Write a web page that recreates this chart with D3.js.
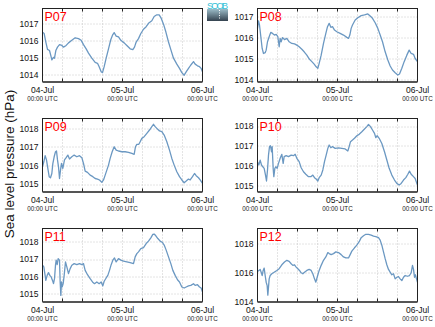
<!DOCTYPE html>
<html>
<head>
<meta charset="utf-8">
<script src="https://cdn.jsdelivr.net/npm/d3@7"></script>
<style>
  html, body { margin: 0; padding: 0; background: #fff; }
  svg { display: block; font-family: "Liberation Sans", Arial, sans-serif; }
</style>
</head>
<body>
<svg id="chart" width="435" height="327"></svg>
<script>
// Sea level pressure per station: [hours since 04-Jul 00:00 UTC, hPa]
const p07 = [[0,1016.47],[0.5,1016.4],[1,1015.9],[1.5,1015.47],[2.1,1015.4],[2.5,1015.1],[2.8,1014.85],[3.3,1015.0],[3.6,1014.95],[4,1015.4],[4.5,1015.6],[5.1,1015.75],[5.8,1015.7],[6.3,1015.6],[7.1,1015.7],[7.8,1015.85],[8.8,1016.0],[9.8,1016.15],[10.8,1016.1],[11.6,1016.0],[12.3,1015.75],[13.1,1015.5],[13.8,1015.25],[14.8,1014.95],[15.8,1014.7],[16.5,1014.65],[17,1014.45],[17.6,1014.15],[18,1014.1],[18.5,1014.45],[19.1,1014.95],[19.8,1015.5],[20.5,1016.05],[21,1016.3],[21.5,1016.45],[22.1,1016.25],[22.8,1016.2],[23.5,1016.0],[24.5,1015.85],[25.3,1015.7],[26.3,1015.5],[27.1,1015.45],[27.6,1015.6],[28.1,1015.9],[28.8,1016.1],[29.5,1016.4],[30.3,1016.65],[31.1,1016.8],[31.8,1017.0],[32.8,1017.15],[33.5,1017.4],[34.3,1017.5],[35,1017.5],[35.6,1017.3],[36.3,1016.95],[37,1016.5],[37.8,1015.9],[38.5,1015.45],[39.3,1014.95],[40.3,1014.6],[41.1,1014.35],[41.8,1014.1],[42.5,1013.95],[43.1,1014.15],[43.8,1014.35],[44.5,1014.55],[45.3,1014.75],[45.8,1014.6],[46.5,1014.5],[47.1,1014.45],[47.6,1014.35],[48,1014.15]];

const p08 = [[0,1016.44],[0.3,1016.8],[0.6,1016.6],[1,1016.04],[1.4,1015.48],[1.8,1015.24],[2.3,1015.28],[2.6,1015.4],[3,1015.8],[3.5,1016.04],[4,1016.25],[4.5,1016.2],[5.1,1016.12],[5.6,1016.15],[6.1,1016.04],[6.5,1015.56],[6.8,1015.96],[7.1,1015.8],[7.5,1016.0],[8.1,1015.9],[8.8,1015.96],[9.5,1015.8],[10.3,1015.72],[11.1,1015.7],[11.8,1015.64],[12.5,1015.56],[13.3,1015.44],[14,1015.32],[14.8,1015.16],[15.6,1014.96],[16.3,1014.85],[17,1014.73],[17.6,1014.6],[18.1,1014.53],[18.5,1014.77],[19.1,1015.16],[19.8,1015.72],[20.5,1016.2],[21,1016.52],[21.5,1016.68],[22,1016.49],[22.5,1016.52],[23.1,1016.36],[23.8,1016.28],[24.8,1016.2],[25.8,1016.12],[26.8,1016.01],[27.3,1015.96],[27.7,1016.12],[28.1,1016.44],[28.5,1016.6],[29.3,1016.84],[30.1,1016.95],[31.1,1017.05],[32.1,1017.08],[33.1,1017.13],[33.8,1017.03],[34.5,1016.92],[35.3,1016.71],[36.1,1016.44],[36.8,1016.12],[37.5,1015.8],[38.3,1015.32],[39.1,1014.93],[39.8,1014.64],[40.5,1014.45],[41.3,1014.32],[42.1,1014.21],[42.6,1014.26],[43.3,1014.53],[44,1014.85],[44.8,1015.16],[45.5,1015.4],[46.1,1015.24],[46.8,1015.2],[47.3,1015.0],[48,1014.85]];

const p09 = [[0,1015.93],[0.4,1016.2],[0.8,1016.53],[1.2,1016.3],[1.6,1015.84],[2,1015.4],[2.4,1015.34],[2.8,1015.57],[3.1,1016.1],[3.5,1016.47],[3.9,1016.74],[4.2,1016.78],[4.5,1016.3],[4.8,1015.93],[5.1,1015.3],[5.4,1015.75],[5.7,1016.11],[6.1,1015.84],[6.6,1016.3],[7.1,1016.42],[7.6,1016.56],[8.1,1016.35],[8.8,1016.47],[9.5,1016.56],[10.3,1016.47],[11.1,1016.53],[11.8,1016.42],[12.3,1016.11],[12.8,1015.7],[13.5,1015.63],[14.3,1015.48],[15.1,1015.4],[15.8,1015.3],[16.5,1015.27],[17.1,1015.22],[17.8,1015.09],[18.3,1015.22],[18.8,1015.48],[19.3,1015.75],[19.8,1016.02],[20.3,1016.38],[20.9,1016.74],[21.5,1017.01],[22.1,1016.83],[22.8,1016.78],[23.8,1016.74],[24.8,1016.74],[25.8,1016.71],[26.8,1016.65],[27.5,1016.6],[27.9,1017.01],[28.3,1017.14],[28.9,1017.14],[29.3,1017.28],[29.8,1017.46],[30.5,1017.55],[31.3,1017.73],[32.1,1017.91],[32.8,1018.09],[33.3,1018.22],[33.8,1018.09],[34.5,1017.96],[35.1,1017.86],[35.8,1017.82],[36.5,1017.64],[37.3,1017.28],[38.1,1016.83],[38.8,1016.38],[39.5,1016.02],[40.3,1015.66],[41.1,1015.4],[41.8,1015.22],[42.5,1015.07],[43.1,1015.16],[43.8,1015.27],[44.3,1015.22],[45,1015.4],[45.6,1015.57],[46.1,1015.45],[46.8,1015.34],[47.3,1015.22],[48,1015.04]];

const p10 = [[0,1016.2],[0.4,1016.03],[0.8,1016.28],[1.2,1016.03],[1.6,1015.94],[2,1015.86],[2.4,1015.52],[2.7,1015.22],[3,1015.78],[3.3,1016.53],[3.6,1016.96],[3.9,1017.0],[4.2,1016.7],[4.4,1016.96],[4.7,1015.86],[4.9,1015.44],[5.2,1015.86],[5.5,1015.94],[5.9,1015.86],[6.3,1016.11],[6.8,1016.37],[7.3,1016.57],[7.7,1016.11],[8,1016.45],[8.6,1016.5],[9.3,1016.45],[10.1,1016.53],[10.8,1016.5],[11.3,1016.57],[11.8,1016.37],[12.5,1016.2],[13.1,1015.89],[13.8,1015.69],[14.5,1015.56],[15.3,1015.44],[16,1015.44],[16.6,1015.52],[17.1,1015.39],[17.6,1015.32],[18.1,1015.22],[18.5,1015.39],[19.1,1015.52],[19.6,1015.78],[20.1,1016.2],[20.6,1016.53],[21.1,1016.87],[21.5,1017.04],[22,1016.9],[22.5,1016.96],[23.3,1016.87],[24.3,1016.9],[25.3,1016.87],[26.3,1016.84],[27.1,1016.74],[27.5,1016.96],[27.9,1017.21],[28.5,1017.29],[29.1,1017.38],[29.8,1017.51],[30.5,1017.58],[31.3,1017.71],[32.1,1017.85],[32.8,1017.97],[33.3,1018.08],[33.9,1017.97],[34.5,1017.8],[35.1,1017.63],[35.5,1017.41],[35.9,1017.51],[36.5,1017.38],[37.3,1017.12],[38.1,1016.7],[38.8,1016.28],[39.5,1015.86],[40.3,1015.52],[41.1,1015.27],[41.8,1015.1],[42.5,1015.02],[43.1,1015.1],[43.8,1015.27],[44.5,1015.39],[45.1,1015.56],[45.6,1015.72],[46.1,1015.56],[46.8,1015.44],[47.3,1015.35],[47.8,1015.1],[48,1015.02]];

const p11 = [[0,1016.65],[0.4,1016.55],[0.7,1016.16],[1,1015.77],[1.4,1016.06],[1.8,1016.22],[2.2,1016.06],[2.6,1015.97],[3,1015.77],[3.3,1015.58],[3.6,1015.87],[3.9,1016.65],[4.1,1016.94],[4.4,1016.68],[4.7,1017.03],[5.1,1016.94],[5.3,1015.68],[5.5,1014.9],[5.7,1015.68],[5.9,1015.39],[6.2,1015.58],[6.5,1016.06],[6.9,1016.84],[7.3,1016.55],[7.8,1016.16],[8.3,1016.45],[8.8,1016.65],[9.5,1016.74],[10.3,1016.68],[11.1,1016.74],[11.8,1016.68],[12.3,1016.74],[12.8,1016.35],[13.5,1016.1],[14.3,1015.87],[15,1015.68],[15.6,1015.58],[16.3,1015.68],[17,1015.58],[17.6,1015.68],[18.1,1015.45],[18.5,1015.72],[19.1,1015.91],[19.6,1016.06],[20.1,1016.35],[20.6,1016.68],[21.1,1016.94],[21.6,1017.07],[22.1,1016.84],[22.8,1017.03],[23.5,1016.94],[24.3,1016.88],[25.3,1016.84],[26.3,1016.8],[27.3,1016.74],[27.8,1017.13],[28.3,1017.32],[28.8,1017.42],[29.5,1017.61],[30.3,1017.67],[31.1,1017.9],[31.8,1018.04],[32.5,1018.23],[33.1,1018.43],[33.5,1018.45],[34,1018.35],[34.6,1018.19],[35.3,1018.04],[36,1017.96],[36.5,1017.81],[37.1,1017.52],[37.8,1017.13],[38.5,1016.74],[39.1,1016.35],[39.8,1016.06],[40.5,1015.81],[41.1,1015.68],[41.8,1015.39],[42.5,1015.33],[43.1,1015.39],[43.8,1015.45],[44.5,1015.48],[45.3,1015.58],[45.8,1015.48],[46.5,1015.52],[47.1,1015.39],[47.6,1015.33],[48,1015.1]];

const p12 = [[0,1016.07],[0.4,1016.14],[0.8,1016.21],[1.1,1016.02],[1.4,1015.79],[1.7,1016.14],[2,1016.3],[2.3,1015.79],[2.6,1015.33],[2.9,1015.09],[3.1,1014.44],[3.3,1014.98],[3.5,1015.56],[3.8,1015.79],[4.3,1015.91],[5,1016.02],[5.8,1016.14],[6.5,1016.26],[7.3,1016.53],[8.1,1016.72],[8.8,1016.84],[9.5,1016.77],[10.1,1016.6],[10.6,1016.49],[11.1,1016.53],[11.6,1016.37],[12.1,1016.26],[12.6,1016.14],[13.1,1015.98],[13.6,1015.91],[14.1,1016.02],[14.8,1016.14],[15.5,1016.21],[16.1,1016.14],[16.6,1015.91],[17.1,1015.56],[17.5,1015.33],[17.9,1015.67],[18.5,1016.14],[19.1,1016.49],[19.8,1016.84],[20.5,1017.07],[21.1,1017.37],[21.5,1017.3],[22.1,1017.23],[22.8,1017.3],[23.5,1017.42],[24.3,1017.37],[25.1,1017.23],[25.8,1017.07],[26.5,1017.0],[27.3,1017.0],[27.8,1017.23],[28.3,1017.47],[29.1,1017.7],[29.8,1017.88],[30.5,1018.12],[31.1,1018.4],[31.8,1018.53],[32.5,1018.63],[33.3,1018.63],[34.1,1018.58],[34.8,1018.51],[35.5,1018.47],[36.3,1018.4],[36.8,1018.23],[37.3,1017.88],[37.8,1017.42],[38.3,1016.95],[38.8,1016.53],[39.3,1016.21],[39.8,1016.02],[40.3,1015.84],[40.8,1015.91],[41.3,1015.56],[41.8,1015.67],[42.3,1015.72],[42.8,1015.56],[43.3,1015.44],[43.8,1015.67],[44.3,1015.79],[45,1015.74],[45.6,1015.79],[46.1,1015.98],[46.5,1016.49],[46.8,1016.21],[47.1,1015.67],[47.4,1015.84],[47.7,1015.56],[48,1015.33]];

const stationNames = ["P07", "P08", "P09", "P10", "P11", "P12"];
const stationSeries = [p07, p08, p09, p10, p11, p12];
const yDomains = [[1013.58, 1017.87], [1013.9, 1017.39], [1014.6, 1018.53], [1014.69, 1018.38], [1014.55, 1018.77], [1014.0, 1019.03]];
const yTickValues = [[1014, 1015, 1016, 1017], [1014, 1015, 1016, 1017], [1015, 1016, 1017, 1018], [1015, 1016, 1017, 1018], [1015, 1016, 1017, 1018], [1014, 1016, 1018]];
const dayLabels = ["04-Jul", "05-Jul", "06-Jul"];
const dayHours = [0, 24, 48];
const gridHours = [0, 6, 12, 18, 24, 30, 36, 42, 48];
const timeLabel = "00:00 UTC";
const yAxisTitle = "Sea level pressure (hPa)";

const svg = d3.select("#chart");
const colLeft = [42.5, 257.5];
const rowTop = [8.5, 118.5, 228.5];
const panelW = 160, panelH = 73;
const lineColor = "#6b98c2";

stationNames.forEach((name, i) => {
  const col = i % 2, row = Math.floor(i / 2);
  const g = svg.append("g").attr("transform", `translate(${colLeft[col]},${rowTop[row]})`);

  const x = d3.scaleLinear().domain([0, 48]).range([0, panelW]);
  const y = d3.scaleLinear().domain(yDomains[i]).range([panelH, 0]);

  // dotted grid
  g.append("g").selectAll("line").data(gridHours.slice(1, -1)).join("line")
    .attr("x1", d => x(d)).attr("x2", d => x(d)).attr("y1", 0).attr("y2", panelH)
    .attr("stroke", "#c8c8c8").attr("stroke-width", 1).attr("stroke-dasharray", "1,2");
  g.append("g").selectAll("line").data(yTickValues[i]).join("line")
    .attr("x1", 0).attr("x2", panelW).attr("y1", d => Math.round(y(d)) + 0.5).attr("y2", d => Math.round(y(d)) + 0.5)
    .attr("stroke", "#c8c8c8").attr("stroke-width", 1).attr("stroke-dasharray", "1,2");

  // pressure trace
  const line = d3.line().x(d => x(d[0])).y(d => y(d[1]));
  g.append("path").datum(stationSeries[i]).attr("d", line)
    .attr("fill", "none").attr("stroke", lineColor).attr("stroke-width", 1.3)
    .attr("stroke-linejoin", "round");

  // frame
  g.append("rect").attr("x", 0).attr("y", 0).attr("width", panelW).attr("height", panelH)
    .attr("fill", "none").attr("stroke", "#222").attr("stroke-width", 1);
  g.append("line").attr("x1", 0).attr("x2", panelW).attr("y1", panelH + 0.5).attr("y2", panelH + 0.5)
    .attr("stroke", "#555").attr("stroke-width", 2);

  // inward tick marks on top and bottom
  const tickX = gridHours.slice(1, -1);
  g.append("g").selectAll("line").data(tickX).join("line")
    .attr("x1", d => x(d)).attr("x2", d => x(d)).attr("y1", 0).attr("y2", 3)
    .attr("stroke", "#222");
  g.append("g").selectAll("line").data(tickX).join("line")
    .attr("x1", d => x(d)).attr("x2", d => x(d)).attr("y1", panelH).attr("y2", panelH - 3)
    .attr("stroke", "#222");

  // y axis labels
  const yAxis = d3.axisLeft(y).tickValues(yTickValues[i]).tickFormat(d3.format("d")).tickSize(0).tickPadding(4);
  const ya = g.append("g").call(yAxis);
  ya.select(".domain").remove();
  ya.selectAll("text").attr("font-size", "8.5px").attr("fill", "#111")
    .attr("font-family", "'Liberation Sans', Arial, sans-serif");

  // x axis labels
  const xl = g.append("g").attr("transform", `translate(0,${panelH})`);
  xl.selectAll("text.day").data(dayHours).join("text").attr("class", "day")
    .attr("x", d => x(d)).attr("y", 11).attr("text-anchor", "middle")
    .attr("font-size", "8.5px").attr("fill", "#111").text((d, k) => dayLabels[k]);
  xl.selectAll("text.utc").data(dayHours).join("text").attr("class", "utc")
    .attr("x", d => x(d)).attr("y", 19).attr("text-anchor", "middle")
    .attr("font-size", "6.3px").attr("fill", "#222").text(timeLabel);

  // station tag
  g.append("text").attr("x", 2).attr("y", 12).attr("font-size", "12.5px").attr("fill", "#f00")
    .text(name);
});

// shared y axis title
svg.append("text")
  .attr("transform", "translate(14,164) rotate(-90)")
  .attr("text-anchor", "middle").attr("font-size", "13.5px").attr("fill", "#111")
  .text(yAxisTitle);

// small institution badge
const defs = svg.append("defs");
const grad = defs.append("linearGradient").attr("id", "badge").attr("x1", 0).attr("x2", 0).attr("y1", 0).attr("y2", 1);
grad.append("stop").attr("offset", "0%").attr("stop-color", "#9cbcc8");
grad.append("stop").attr("offset", "100%").attr("stop-color", "#34424f");
svg.append("rect").attr("x", 207).attr("y", 9).attr("width", 21).attr("height", 12).attr("fill", "url(#badge)");
svg.append("line").attr("x1", 219.5).attr("x2", 219.5).attr("y1", 10).attr("y2", 20)
  .attr("stroke", "#fff").attr("stroke-dasharray", "1,1.5").attr("stroke-width", 1);
svg.append("text").attr("x", 217.5).attr("y", 9).attr("text-anchor", "middle")
  .attr("font-size", "9px").attr("fill", "#35c2d8").attr("textLength", 21).text("SOCIB");
</script>
</body>
</html>
